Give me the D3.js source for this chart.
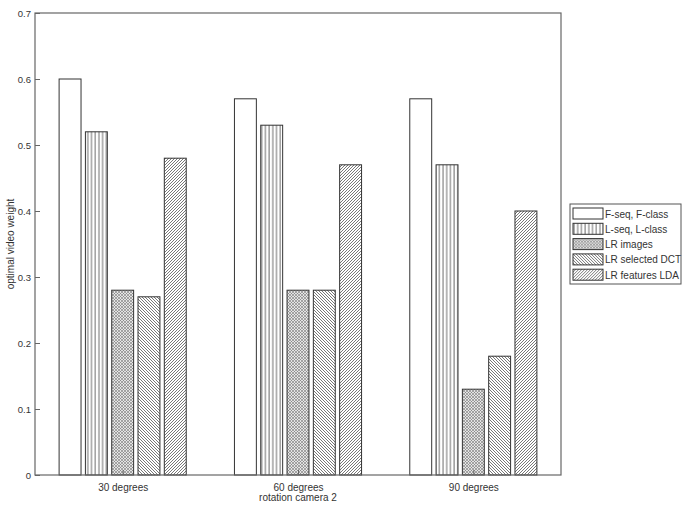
<!DOCTYPE html>
<html>
<head>
<meta charset="utf-8">
<script src="https://cdnjs.cloudflare.com/ajax/libs/d3/7.8.5/d3.min.js"></script>
<style>
  body { margin: 0; background: #fff; font-family: "Liberation Sans", Helvetica, Arial, sans-serif; }
  text { fill: #333; }
</style>
</head>
<body>
<div id="chart"></div>
<script>
// data
var groups = ["30 degrees", "60 degrees", "90 degrees"];
var series = ["F-seq, F-class", "L-seq, L-class", "LR images", "LR selected DCT", "LR features LDA"];
var fSeq   = [0.60, 0.57, 0.57];
var lSeq   = [0.52, 0.53, 0.47];
var lrImg  = [0.28, 0.28, 0.13];
var lrDct  = [0.27, 0.28, 0.18];
var lrLda  = [0.48, 0.47, 0.40];
var yTicks = [0, 0.1, 0.2, 0.3, 0.4, 0.5, 0.6, 0.7];

var values = [fSeq, lSeq, lrImg, lrDct, lrLda];
var fills = ["#fff", "url(#pVert)", "url(#pCross)", "url(#pBack)", "url(#pFwd)"];

var W = 685, H = 507;
var margin = {top: 13, right: 124, bottom: 32, left: 35};
var width = W - margin.left - margin.right,
    height = H - margin.top - margin.bottom;

var svg = d3.select("#chart").append("svg")
    .attr("width", W)
    .attr("height", H);

// hatch patterns
var defs = svg.append("defs");
var pv = defs.append("pattern").attr("id", "pVert").attr("patternUnits", "userSpaceOnUse")
    .attr("width", 3.7).attr("height", 10);
pv.append("rect").attr("width", 3.7).attr("height", 10).attr("fill", "#fff");
pv.append("line").attr("x1", 1).attr("x2", 1).attr("y1", 0).attr("y2", 10)
    .attr("stroke", "#555").attr("stroke-width", 0.9);

var pc = defs.append("pattern").attr("id", "pCross").attr("patternUnits", "userSpaceOnUse")
    .attr("width", 3).attr("height", 3);
pc.append("rect").attr("width", 3).attr("height", 3).attr("fill", "#e4e4e4");
pc.append("path").attr("d", "M0,0L3,3M3,0L0,3").attr("stroke", "#777").attr("stroke-width", 0.6);

var pb = defs.append("pattern").attr("id", "pBack").attr("patternUnits", "userSpaceOnUse")
    .attr("width", 3).attr("height", 3);
pb.append("rect").attr("width", 3).attr("height", 3).attr("fill", "#fff");
pb.append("path").attr("d", "M-1,-1L4,4M-1,2L1,4M2,-1L4,1").attr("stroke", "#555").attr("stroke-width", 0.8);

var pf = defs.append("pattern").attr("id", "pFwd").attr("patternUnits", "userSpaceOnUse")
    .attr("width", 3).attr("height", 3);
pf.append("rect").attr("width", 3).attr("height", 3).attr("fill", "#fff");
pf.append("path").attr("d", "M-1,4L4,-1M-1,1L1,-1M2,4L4,2").attr("stroke", "#555").attr("stroke-width", 0.8);

var g = svg.append("g")
    .attr("transform", "translate(" + margin.left + "," + margin.top + ")");

var x = d3.scaleLinear().domain([0.5, 3.5]).range([0, width]);
var y = d3.scaleLinear().domain([0, 0.7]).range([height, 0]);

var pitch = 0.15, bw = 0.125;

// bars
values.forEach(function(vals, si) {
  g.selectAll(".bar" + si)
    .data(vals)
    .enter().append("rect")
    .attr("x", function(d, i) { return x(i + 1 + (si - 2) * pitch - bw / 2); })
    .attr("y", function(d) { return y(d); })
    .attr("width", x(bw) - x(0))
    .attr("height", function(d) { return y(0) - y(d); })
    .attr("fill", fills[si])
    .attr("stroke", "#333")
    .attr("stroke-width", 1);
});

// box
g.append("rect").attr("width", width).attr("height", height)
    .attr("fill", "none").attr("stroke", "#666").attr("stroke-width", 1.2);

// y axis
var yAxis = g.append("g").call(d3.axisLeft(y).tickValues(yTicks).tickSize(-5).tickPadding(4)
    .tickFormat(function(d) { return d === 0 ? "0" : d3.format(".1f")(d); }));
yAxis.select(".domain").remove();
yAxis.selectAll("line").attr("stroke", "#666");
yAxis.selectAll("text").attr("font-size", 9.5).attr("fill", "#333")
    .attr("font-family", "Liberation Sans, Arial, sans-serif");

// x axis
var xAxis = g.append("g").attr("transform", "translate(0," + height + ")")
    .call(d3.axisBottom(x).tickValues([1, 2, 3]).tickSize(-5).tickPadding(9)
      .tickFormat(function(d) { return groups[d - 1]; }));
xAxis.select(".domain").remove();
xAxis.selectAll("line").attr("stroke", "#666");
xAxis.selectAll("text").attr("font-size", 10).attr("fill", "#333")
    .attr("font-family", "Liberation Sans, Arial, sans-serif");

// axis titles
g.append("text").attr("x", x(2)).attr("y", height + 26)
    .attr("text-anchor", "middle").attr("font-size", 10)
    .text("rotation camera 2");
g.append("text").attr("transform", "translate(-21," + (height / 2) + ") rotate(-90)")
    .attr("text-anchor", "middle").attr("font-size", 10)
    .text("optimal video weight");

// legend
var lg = svg.append("g").attr("transform", "translate(570,204)");
lg.append("rect").attr("width", 111).attr("height", 80)
    .attr("fill", "#fff").attr("stroke", "#555").attr("stroke-width", 1);
series.forEach(function(s, i) {
  var row = lg.append("g").attr("transform", "translate(3," + (4 + i * 15.3) + ")");
  row.append("rect").attr("width", 30).attr("height", 11)
      .attr("fill", fills[i]).attr("stroke", "#333");
  row.append("text").attr("x", 32).attr("y", 9.5).attr("font-size", 10).text(s);
});
</script>
</body>
</html>
